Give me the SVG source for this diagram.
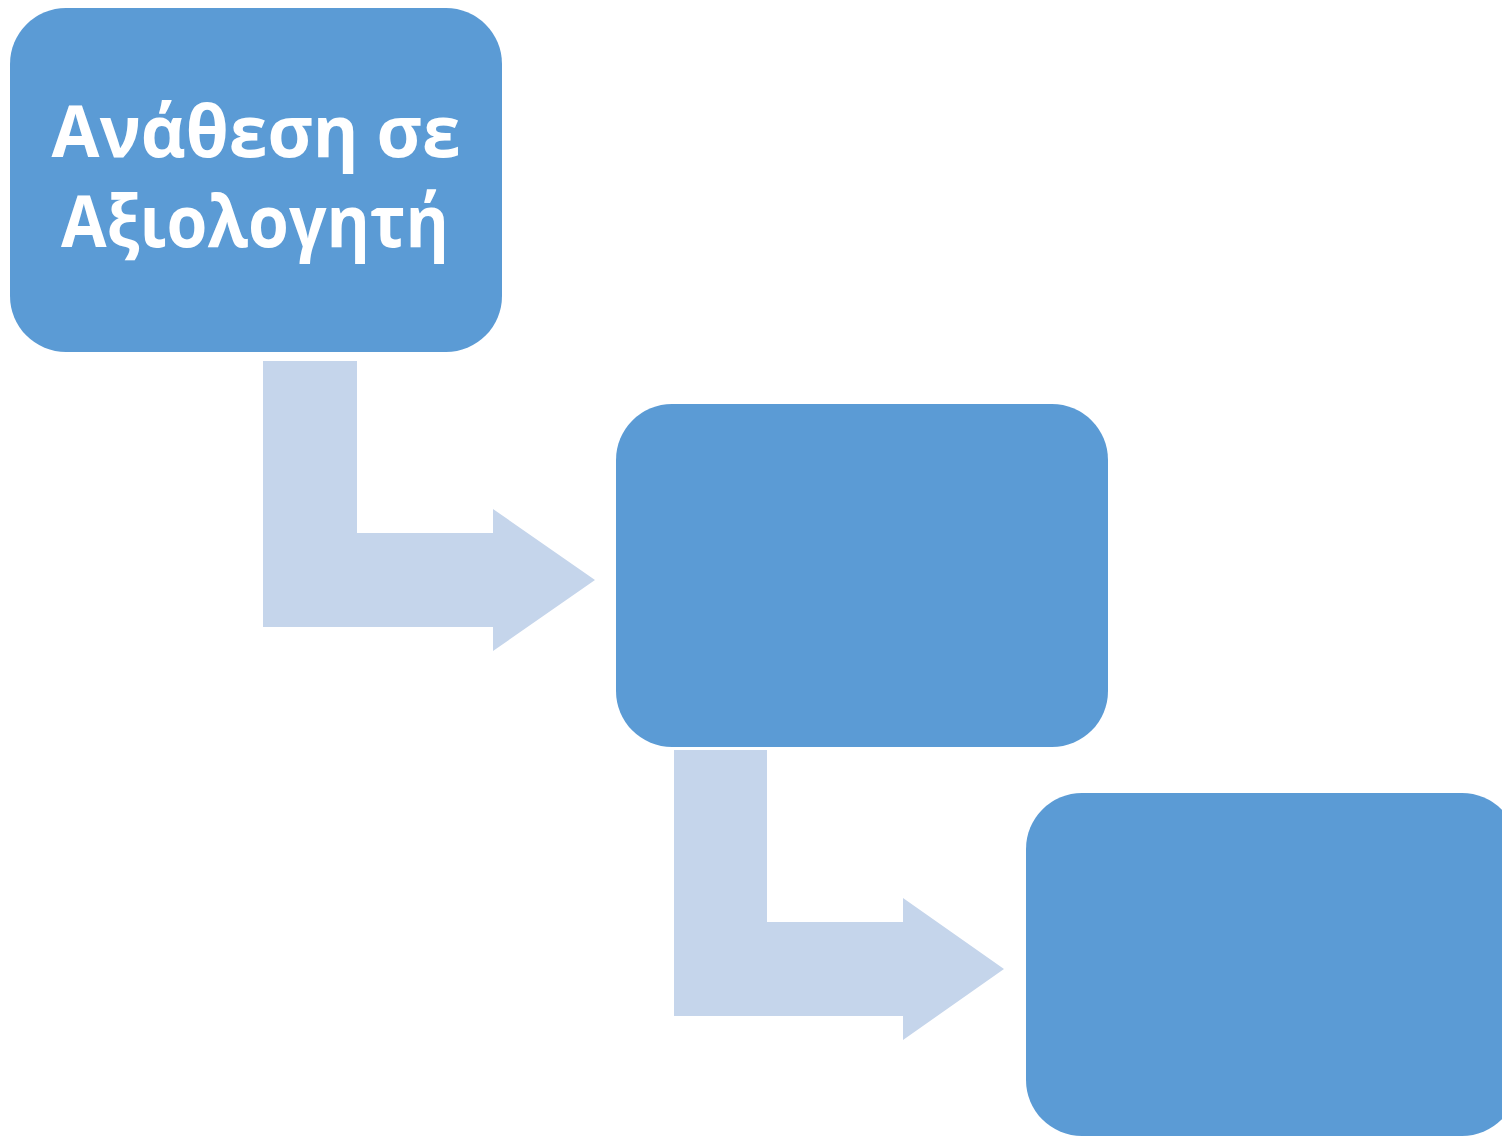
<svg xmlns="http://www.w3.org/2000/svg" width="1502" height="1137" viewBox="0 0 1502 1137">
<style>
.node{fill:#5b9bd5}
.conn{fill:#c5d5eb}
.lbl{font-family:"Open Sans","Noto Sans","DejaVu Sans",sans-serif;font-weight:bold;font-size:72px;fill:#ffffff;text-anchor:middle}
</style>
<rect width="1502" height="1137" fill="#ffffff"/>
<g id="connectors">
<path class="conn" d="M263 361 H357 V533 H493 V509 L595 580 L493 651 V627 H263 Z"/>
<path class="conn" d="M674 750 H767 V922 H903 V898 L1004 969 L903 1040 V1016 H674 Z"/>
</g>
<g id="node1">
<rect class="node" x="10" y="8" width="492" height="344" rx="56" ry="56"/>
<text class="lbl" x="256" y="157" textLength="409" lengthAdjust="spacingAndGlyphs">Ανάθεση σε</text>
<text class="lbl" x="255" y="247" textLength="388" lengthAdjust="spacingAndGlyphs">Αξιολογητή</text>
</g>
<g id="node2">
<rect class="node" x="616" y="404" width="492" height="343" rx="56" ry="56"/>
</g>
<g id="node3">
<rect class="node" x="1026" y="793" width="492" height="343" rx="56" ry="56"/>
</g>
</svg>
